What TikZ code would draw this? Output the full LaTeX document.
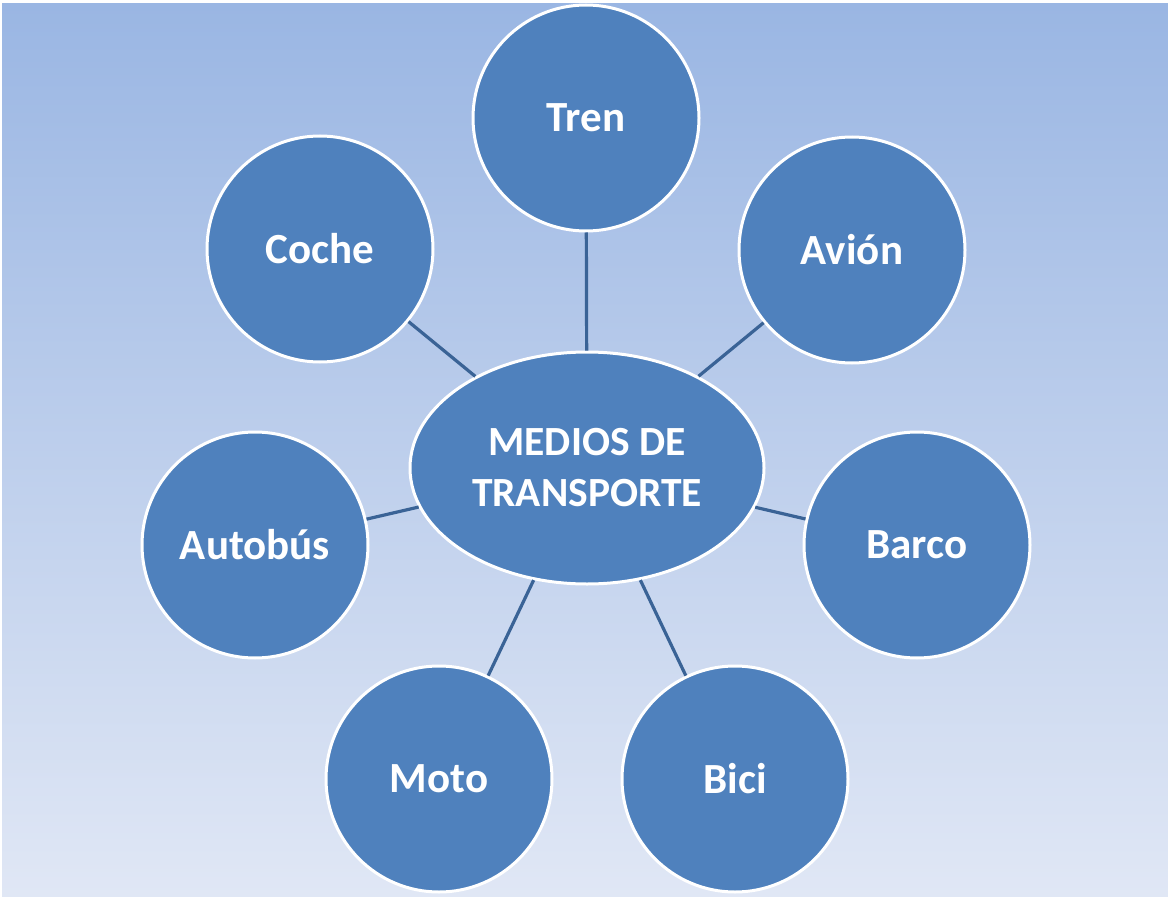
\documentclass[tikz,border=0pt]{standalone}
\usepackage{fontspec}
\setmainfont{Carlito}
\usetikzlibrary{shapes.geometric}
\definecolor{nodeblue}{RGB}{79,129,189}
\definecolor{linkblue}{RGB}{58,99,150}
\definecolor{bgtop}{RGB}{154,182,227}
\definecolor{bgbot}{RGB}{224,231,245}
\tikzset{
  satellite/.style={circle, fill=nodeblue, draw=white, line width=3pt, minimum size=226pt, inner sep=0pt,
    text=white, font=\fontsize{43}{50}\selectfont\bfseries},
  hub/.style={ellipse, fill=nodeblue, draw=white, line width=3pt, minimum width=354pt, minimum height=232pt, inner sep=0pt,
    text=white, align=center, font=\fontsize{41.5}{51}\selectfont\bfseries},
  link/.style={draw=linkblue, line width=3.2pt}
}
\begin{document}
\begin{tikzpicture}[x=1pt,y=-1pt]
\useasboundingbox (0,0) rectangle (1168,899);
\fill[white] (0,0) rectangle (1168,899);
\shade[top color=bgtop, bottom color=bgbot] (2,4) rectangle (1168,896);
\node[hub] (c) at (587,468) {MEDIOS DE\\TRANSPORTE};
\node[satellite] (tren) at (586,118) {Tren};
\node[satellite] (avion) at (852,250) {Avión};
\node[satellite] (barco) at (917,545) {Barco};
\node[satellite] (bici) at (735,779) {Bici};
\node[satellite] (moto) at (439,779) {Moto};
\node[satellite] (autobus) at (255,545) {Autobús};
\node[satellite] (coche) at (320,249) {Coche};
\foreach \n in {tren,avion,barco,bici,moto,autobus,coche}
  \draw[link] (c) -- (\n);
\end{tikzpicture}
\end{document}
